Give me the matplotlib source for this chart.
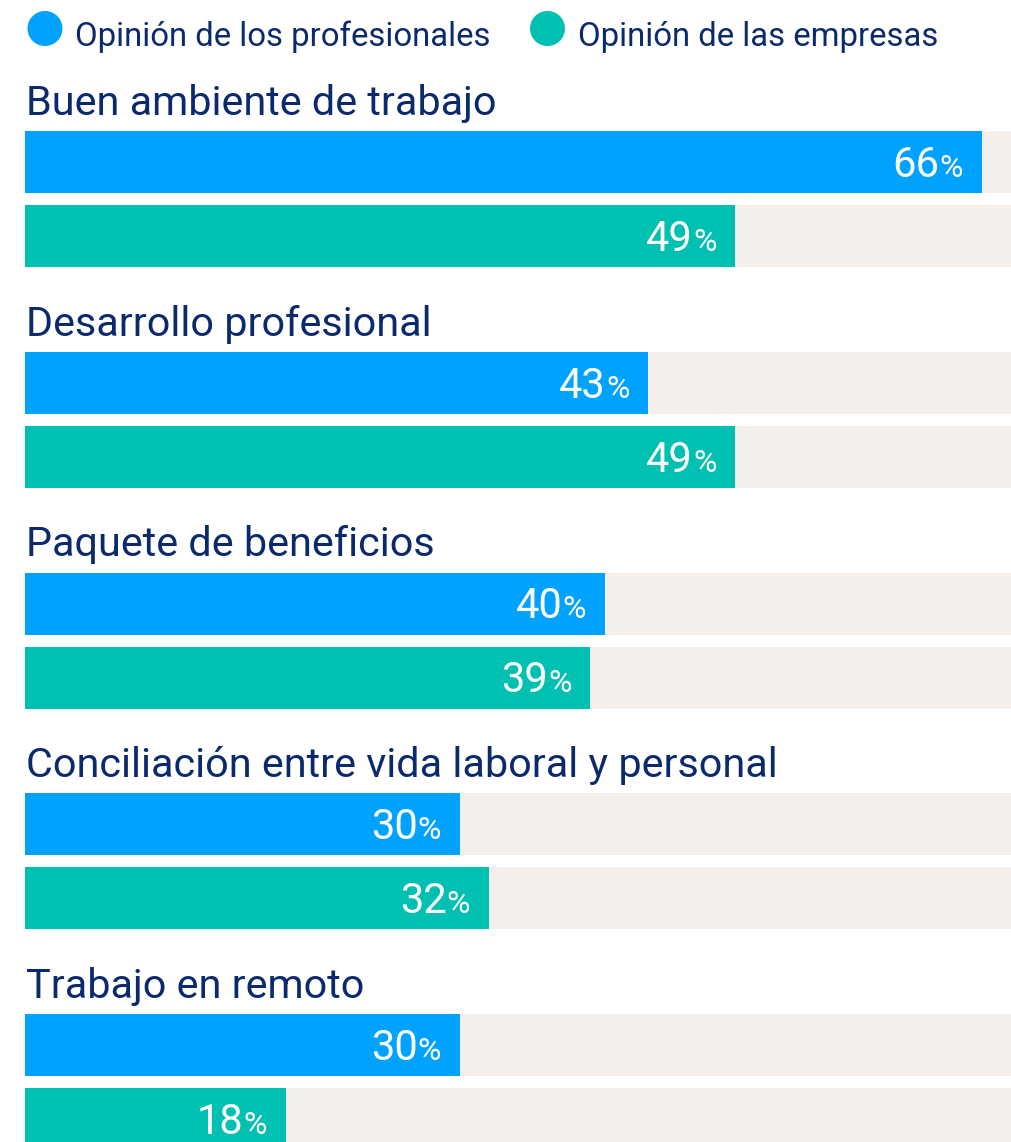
import matplotlib
matplotlib.use("Agg")
import matplotlib.pyplot as plt
from matplotlib.patches import Circle
from matplotlib.transforms import offset_copy

plt.rcParams["font.family"] = ["Roboto", "DejaVu Sans"]

# datos
categorias = ["Buen ambiente de trabajo", "Desarrollo profesional", "Paquete de beneficios",
              "Conciliación entre vida laboral y personal", "Trabajo en remoto"]
profesionales = [66, 43, 40, 30, 30]
empresas = [49, 49, 39, 32, 18]
series = ["Opinión de los profesionales", "Opinión de las empresas"]

AZUL = "#00A2FF"
VERDE = "#00C0B2"
FONDO = "#F3EEEA"
NAVY = "#0B2A6E"

W, H = 1012, 1142
fig = plt.figure(figsize=(W / 100, H / 100), dpi=100)

# capa en píxeles para leyenda y títulos
ov = fig.add_axes([0, 0, 1, 1])
ov.set_xlim(0, W); ov.set_ylim(H, 0); ov.axis("off")

# ejes de barras: x en %, y en píxeles
x0 = 25
xmax = (W - x0) / 14.5
ax = fig.add_axes([x0 / W, 0, (W - x0) / W, 1])
ax.set_xlim(0, xmax); ax.set_ylim(H, 0); ax.axis("off")

# leyenda
for cx, tx, col, lab in ((45, 75, AZUL, series[0]), (547.5, 578, VERDE, series[1])):
    ov.add_patch(Circle((cx, 28.5), 17.5, color=col, lw=0))
    ov.text(tx, 46, lab, color=NAVY, fontsize=23.7, va="baseline", ha="left")

step = 220.75
bh = 62
fig.canvas.draw()
r = fig.canvas.get_renderer()
for i, cat in enumerate(categorias):
    top = 131 + i * step
    yb = top + bh / 2
    yt = top + 74 + bh / 2
    ov.text(26, top - 16, cat, color=NAVY, fontsize=29.8, va="baseline", ha="left")
    for y, v, col in ((yb, profesionales[i], AZUL), (yt, empresas[i], VERDE)):
        ax.barh(y, xmax, height=bh, color=FONDO, lw=0)
        ax.barh(y, v, height=bh, color=col, lw=0)
        tp = ax.text(v, y + 15, "%", color="white", fontsize=23, va="baseline", ha="right",
                     transform=offset_copy(ax.transData, fig=fig, x=-19, y=0, units="dots"))
        wpct = tp.get_window_extent(renderer=r).width
        ax.text(v, y + 15, str(v), color="white", fontsize=30, va="baseline", ha="right",
                transform=offset_copy(ax.transData, fig=fig, x=-19 - wpct, y=0, units="dots"))

fig.savefig("out.png", dpi=100)
